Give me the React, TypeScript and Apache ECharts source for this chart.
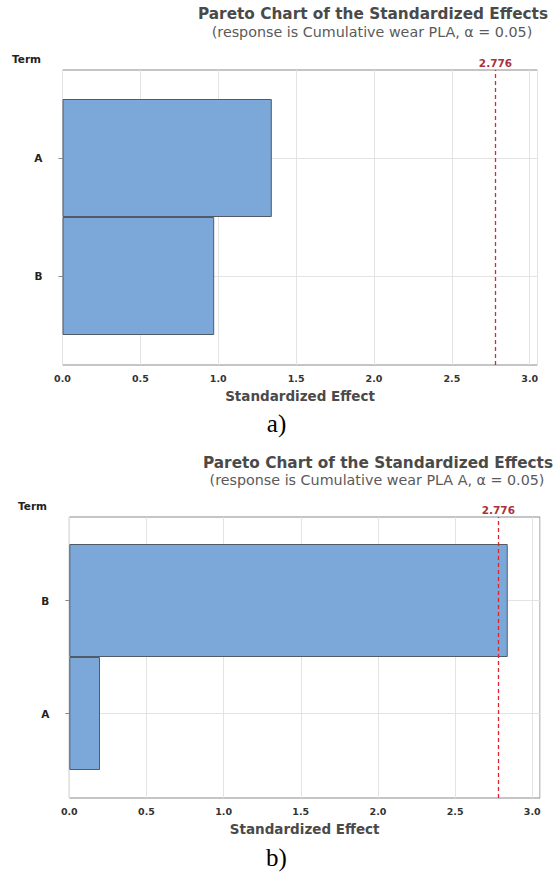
import React, { useEffect, useRef } from "react";
import * as echarts from "echarts";

const termsA = ["A", "B"];
const effectsA = [1.344, 0.974];
const termsB = ["B", "A"];
const effectsB = [2.841, 0.199];
const criticalValue = 2.776;
const xTicks = [0, 0.5, 1.0, 1.5, 2.0, 2.5, 3.0];
const titleText = "Pareto Chart of the Standardized Effects";
const subtitleA = "(response is Cumulative wear PLA, \u03b1 = 0.05)";
const subtitleB = "(response is Cumulative wear PLA A, \u03b1 = 0.05)";

const WIDE = "'DejaVu Sans', 'Open Sans', sans-serif";
const BAR_FILL = "#7ba7d9";
const BAR_EDGE = "#515b67";
const FRAME = "#8a8a8a";
const GRIDLINE = "#e3e3e3";

export default function App() {
  const ref = useRef<HTMLDivElement>(null);

  useEffect(() => {
    if (!ref.current) return;
    const chart = echarts.init(ref.current, null, { renderer: "svg" });

    const panels = [
      { frame: { left: 62.5, top: 70, width: 475, height: 295 }, bars: { top: 99, height: 236 }, terms: termsA, values: effectsA },
      { frame: { left: 69.3, top: 517, width: 470.7, height: 281 }, bars: { top: 544, height: 226 }, terms: termsB, values: effectsB },
    ];

    const grids: any[] = [];
    const xAxes: any[] = [];
    const yAxes: any[] = [];
    const series: any[] = [];

    panels.forEach((p, i) => {
      const fi = i * 2;
      const bi = i * 2 + 1;
      grids.push({ ...p.frame, show: true, borderColor: FRAME, borderWidth: 1, backgroundColor: "transparent" });
      grids.push({ left: p.frame.left, width: p.frame.width, top: p.bars.top, height: p.bars.height });

      xAxes.push({
        gridIndex: fi,
        type: "value",
        min: 0,
        max: 3.05,
        interval: 0.5,
        axisLine: { show: false },
        axisTick: { show: false },
        splitLine: { show: true, lineStyle: { color: GRIDLINE, width: 1 } },
        axisLabel: {
          showMaxLabel: false,
          margin: 8,
          color: "#333",
          fontFamily: WIDE,
          fontWeight: "bold",
          fontSize: 9.5,
          formatter: (v: number) => (xTicks.includes(v) ? v.toFixed(1) : ""),
        },
        name: "Standardized Effect",
        nameLocation: "middle",
        nameGap: 24,
        nameTextStyle: { color: "#4a4a4a", fontFamily: WIDE, fontWeight: "bold", fontSize: 13.5 },
      });
      xAxes.push({ gridIndex: bi, type: "value", min: 0, max: 3.05, show: false });

      yAxes.push({ gridIndex: fi, type: "value", min: 0, max: 1, show: false });
      yAxes.push({
        gridIndex: bi,
        type: "category",
        data: p.terms,
        inverse: true,
        axisLine: { show: false },
        axisTick: { show: true, alignWithLabel: true, length: 4, lineStyle: { color: FRAME } },
        axisLabel: { margin: 20, color: "#222", fontFamily: WIDE, fontWeight: "bold", fontSize: 10.5 },
        splitLine: { show: true, alignWithLabel: true, lineStyle: { color: GRIDLINE, width: 1 } },
      });

      series.push({
        type: "line",
        xAxisIndex: fi,
        yAxisIndex: fi,
        data: [],
        z: 1,
        silent: true,
        markLine: {
          symbol: "none",
          silent: true,
          lineStyle: { color: "#e0262c", type: [4, 3], width: 1.3 },
          label: {
            show: true,
            position: "end",
            distance: 2,
            formatter: () => criticalValue.toFixed(3),
            color: "#a8333b",
            fontFamily: WIDE,
            fontWeight: "bold",
            fontSize: 10.5,
          },
          data: [{ xAxis: criticalValue }],
        },
      });

      series.push({
        type: "bar",
        xAxisIndex: bi,
        yAxisIndex: bi,
        data: p.values,
        barCategoryGap: "0%",
        z: 3,
        itemStyle: { color: BAR_FILL, borderColor: BAR_EDGE, borderWidth: 1 },
      });
    });

    const txt = (x: number, y: number, text: string, font: any, align = "center") => ({
      type: "text",
      x,
      y,
      style: { text, textAlign: align, textVerticalAlign: "middle", ...font },
    });

    const titleFont = { fill: "#4a4a4a", fontFamily: WIDE, fontWeight: "bold", fontSize: 15.3 };
    const subFont = { fill: "#5a5a5a", fontFamily: WIDE, fontWeight: "normal", fontSize: 14.3 };
    const termFont = { fill: "#222", fontFamily: WIDE, fontWeight: "bold", fontSize: 10.5 };
    const capFont = { fill: "#000", fontFamily: "'Liberation Serif', 'Times New Roman', serif", fontSize: 25 };

    chart.setOption({
      animation: false,
      grid: grids,
      xAxis: xAxes,
      yAxis: yAxes,
      series,
      graphic: [
        txt(373, 14, titleText, titleFont),
        txt(372, 32, subtitleA, subFont),
        txt(12, 59, "Term", termFont, "left"),
        txt(276.5, 423, "a)", capFont),
        txt(378, 463, titleText, titleFont),
        txt(377, 480, subtitleB, subFont),
        txt(18, 506, "Term", termFont, "left"),
        txt(276.5, 857, "b)", capFont),
      ],
    });

    return () => chart.dispose();
  }, []);

  return (
    <div
      ref={ref}
      style={{ position: "absolute", left: 0, top: 0, width: 553, height: 873, background: "#fff" }}
    />
  );
}
